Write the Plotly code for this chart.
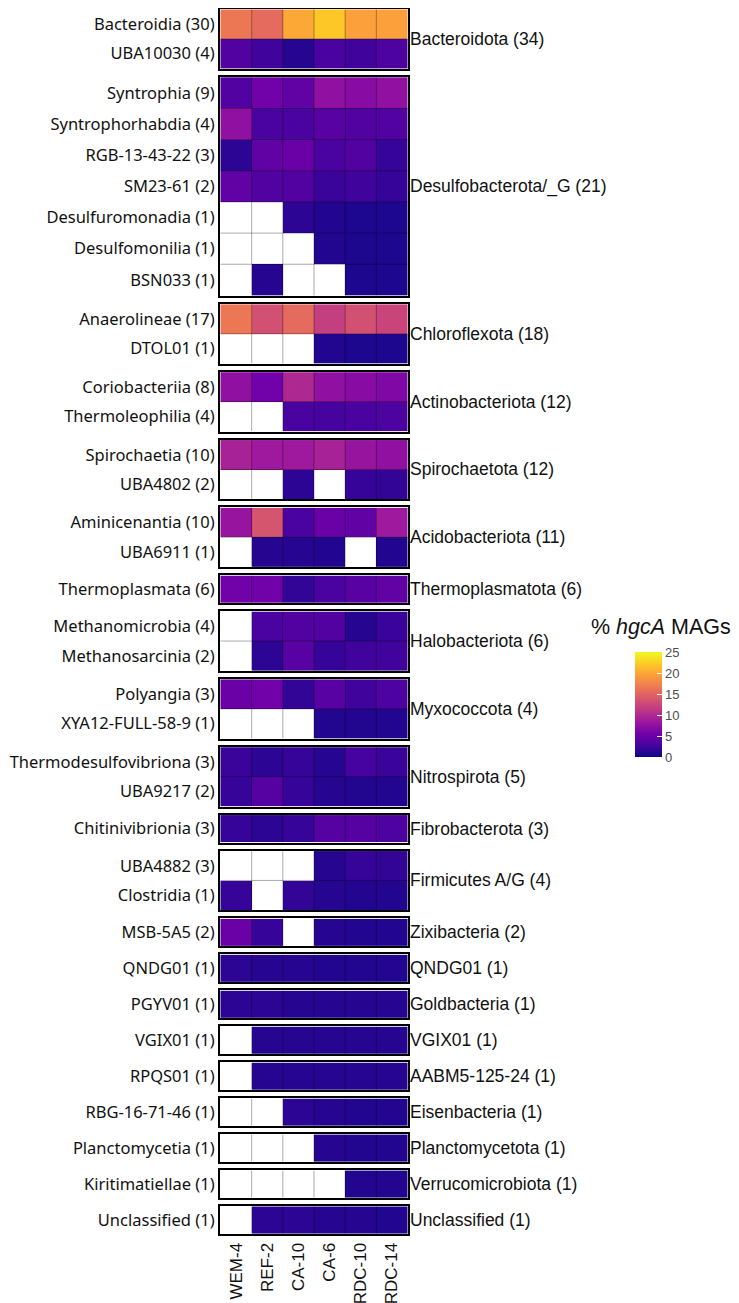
import plotly.graph_objects as go
from plotly.subplots import make_subplots

N = None

sites = ["WEM-4", "REF-2", "CA-10", "CA-6", "RDC-10", "RDC-14"]

phylum_labels = [
    "Bacteroidota (34)", "Desulfobacterota/_G (21)", "Chloroflexota (18)",
    "Actinobacteriota (12)", "Spirochaetota (12)", "Acidobacteriota (11)",
    "Thermoplasmatota (6)", "Halobacteriota (6)", "Myxococcota (4)",
    "Nitrospirota (5)", "Fibrobacterota (3)", "Firmicutes A/G (4)",
    "Zixibacteria (2)", "QNDG01 (1)", "Goldbacteria (1)", "VGIX01 (1)",
    "AABM5-125-24 (1)", "Eisenbacteria (1)", "Planctomycetota (1)",
    "Verrucomicrobiota (1)", "Unclassified (1)",
]

classes_per_phylum = [2, 7, 2, 2, 2, 2, 1, 2, 2, 2, 1, 2, 1, 1, 1, 1, 1, 1, 1, 1, 1]

class_labels = [
    "Bacteroidia (30)", "UBA10030 (4)",
    "Syntrophia (9)", "Syntrophorhabdia (4)", "RGB-13-43-22 (3)", "SM23-61 (2)",
    "Desulfuromonadia (1)", "Desulfomonilia (1)", "BSN033 (1)",
    "Anaerolineae (17)", "DTOL01 (1)",
    "Coriobacteriia (8)", "Thermoleophilia (4)",
    "Spirochaetia (10)", "UBA4802 (2)",
    "Aminicenantia (10)", "UBA6911 (1)",
    "Thermoplasmata (6)",
    "Methanomicrobia (4)", "Methanosarcinia (2)",
    "Polyangia (3)", "XYA12-FULL-58-9 (1)",
    "Thermodesulfovibriona (3)", "UBA9217 (2)",
    "Chitinivibrionia (3)",
    "UBA4882 (3)", "Clostridia (1)",
    "MSB-5A5 (2)",
    "QNDG01 (1)",
    "PGYV01 (1)",
    "VGIX01 (1)",
    "RPQS01 (1)",
    "RBG-16-71-46 (1)",
    "Planctomycetia (1)",
    "Kiritimatiellae (1)",
    "Unclassified (1)",
]

# % hgcA MAGs per class (rows) and site (columns); None = no MAG
pct_hgcA = [
    [16.5, 15.5, 20.0, 22.0, 19.5, 19.5],
    [3.5, 2.5, 1.2, 3.0, 2.5, 3.2],
    [3.5, 5.5, 4.5, 7.5, 7.0, 7.5],
    [7.5, 3.0, 3.0, 4.0, 3.5, 3.5],
    [1.5, 4.5, 5.0, 3.0, 3.5, 2.0],
    [4.5, 3.5, 3.5, 2.2, 2.5, 2.0],
    [N, N, 1.5, 1.0, 0.8, 0.8],
    [N, N, N, 1.0, 0.8, 0.8],
    [N, 1.2, N, N, 0.8, 0.8],
    [16.5, 13.3, 15.5, 11.8, 13.3, 12.2],
    [N, N, N, 1.0, 0.8, 0.8],
    [7.5, 5.5, 9.8, 7.5, 7.0, 6.5],
    [N, N, 3.0, 2.8, 3.0, 3.2],
    [9.3, 8.5, 8.5, 9.3, 8.0, 7.5],
    [N, N, 1.5, N, 2.0, 1.8],
    [8.0, 13.6, 3.0, 5.0, 4.5, 8.5],
    [N, 1.2, 1.2, 1.0, N, 1.0],
    [5.5, 5.5, 1.8, 3.0, 4.0, 4.5],
    [N, 3.0, 3.5, 3.5, 1.2, 2.2],
    [N, 1.5, 4.0, 2.0, 2.5, 2.5],
    [5.0, 5.5, 1.8, 4.0, 2.5, 3.2],
    [N, N, N, 1.0, 1.0, 1.0],
    [2.2, 1.5, 2.0, 1.2, 2.8, 2.2],
    [2.0, 3.8, 2.0, 1.2, 1.0, 1.0],
    [2.0, 1.5, 2.0, 3.8, 3.8, 3.2],
    [N, N, N, 1.2, 2.0, 1.8],
    [2.0, N, 1.8, 1.2, 1.0, 1.0],
    [5.0, 2.0, N, 1.2, 1.0, 1.0],
    [1.5, 1.2, 1.2, 1.0, 1.0, 1.0],
    [1.5, 1.5, 1.2, 1.2, 1.2, 1.2],
    [N, 1.2, 1.2, 1.2, 1.2, 1.2],
    [N, 1.2, 1.2, 1.2, 1.2, 1.2],
    [N, N, 1.5, 1.2, 1.0, 1.0],
    [N, N, N, 1.2, 1.0, 1.0],
    [N, N, N, N, 1.0, 1.0],
    [N, 1.5, 1.5, 1.2, 1.2, 1.0],
]

# page has an 8px body margin, so the figure is 8px smaller than the window
W, H = 731, 1295
ML, MR, MT, MB = 212, 331, 1, 69
plot_h = H - MT - MB
plot_w = W - ML - MR
ngroups = len(phylum_labels)

ROW_PX, PANEL_PAD, GAP_PX = 31.9, 3.9, 8.0
panel_heights = [n * ROW_PX - PANEL_PAD for n in classes_per_phylum]

fig = make_subplots(
    rows=ngroups, cols=1, shared_xaxes=True,
    vertical_spacing=GAP_PX / plot_h,
    row_heights=panel_heights,
)

LEFT_FONT = dict(family="Noto Sans, Open Sans, sans-serif", size=16.5, color="#111111")
RIGHT_FONT = dict(family="Liberation Sans, Arial, sans-serif", size=17.5, color="#111111")

start = 0
shapes = []
for g in range(ngroups):
    n = classes_per_phylum[g]
    labs = class_labels[start:start + n]
    z = pct_hgcA[start:start + n]
    start += n
    r = g + 1
    fig.add_trace(
        go.Heatmap(x=sites, y=labs, z=z, coloraxis="coloraxis",
                   hoverongaps=False),
        row=r, col=1,
    )
    sfx = "" if r == 1 else str(r)
    xr, yr = "x" + sfx, "y" + sfx
    for i in range(len(sites) - 1):
        shapes.append(dict(type="line", xref=xr, yref=yr,
                           x0=i + 0.5, x1=i + 0.5, y0=-0.5, y1=n - 0.5,
                           line=dict(color="rgba(0,0,0,0.33)", width=1)))
    for j in range(n - 1):
        shapes.append(dict(type="line", xref=xr, yref=yr,
                           x0=-0.5, x1=len(sites) - 0.5, y0=j + 0.5, y1=j + 0.5,
                           line=dict(color="rgba(0,0,0,0.33)", width=1)))
    fig.update_yaxes(row=r, col=1, autorange="reversed", showgrid=False,
                     zeroline=False, showline=True, mirror=True,
                     linecolor="black", linewidth=2.2, ticks="",
                     automargin=False,
                     tickfont=LEFT_FONT, fixedrange=True)
    fig.update_xaxes(row=r, col=1, showgrid=False, zeroline=False,
                     showline=True, mirror=True, linecolor="black",
                     linewidth=2.2, ticks="", automargin=False,
                     showticklabels=(r == ngroups), tickangle=-90,
                     tickfont=dict(family="Liberation Sans, Arial, sans-serif",
                                   size=17, color="#111111"))
    fig.add_annotation(text=phylum_labels[g], xref=xr + " domain",
                       yref=yr + " domain", x=1, y=0.5, xanchor="left",
                       yanchor="middle", showarrow=False, xshift=0,
                       font=RIGHT_FONT)

# colorbar (figure pixel coordinates)
cb_top, cb_bot, cb_left = 644, 749, 627
fig.add_annotation(text="% <i>hgcA</i> MAGs", xref="paper", yref="paper",
                   x=(581 - ML) / plot_w, y=(H - MB - 619) / plot_h,
                   xanchor="left", yanchor="middle", showarrow=False,
                   font=dict(family="Liberation Sans, Arial, sans-serif",
                             size=21.5, color="#111111"))

fig.update_layout(
    width=W, height=H,
    margin=dict(l=ML, r=MR, t=MT, b=MB, autoexpand=False),
    paper_bgcolor="white", plot_bgcolor="white",
    shapes=shapes,
    showlegend=False,
    coloraxis=dict(
        colorscale="Plasma", cmin=0, cmax=25,
        colorbar=dict(
            x=(cb_left - ML) / plot_w, xanchor="left", xpad=0,
            y=(H - MB - (cb_top + cb_bot) / 2) / plot_h, yanchor="middle",
            ypad=0, lenmode="pixels", len=cb_bot - cb_top,
            thickness=27, outlinewidth=0,
            tickvals=[0, 5, 10, 15, 20, 25],
            ticks="inside", ticklen=5, tickcolor="white", tickwidth=1,
            tickfont=dict(family="Liberation Sans, Arial, sans-serif",
                          size=13, color="#4d4d4d"),
        ),
    ),
)

fig.write_html("out.html")
